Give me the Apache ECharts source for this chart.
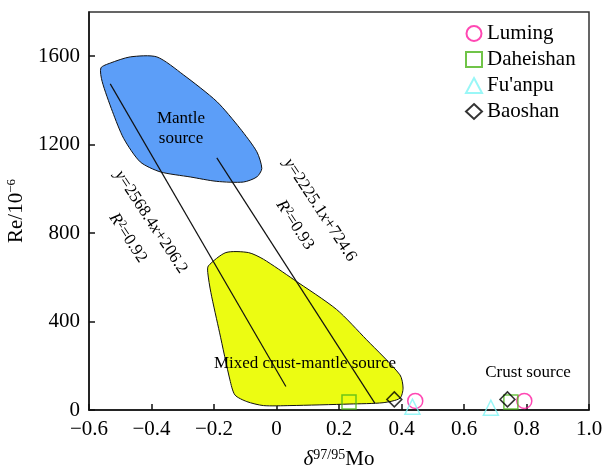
<!DOCTYPE html>
<html>
<head>
<meta charset="UTF-8">
<script src="https://cdn.jsdelivr.net/npm/echarts@6/dist/echarts.min.js"></script>
<style>html,body{margin:0;padding:0;background:#fff}</style>
</head>
<body>
<div id="main" style="width:611px;height:469px;"></div>
<script>
// field outlines [delta97/95Mo, Re]
var mantleArea = [[-0.562,1547],[-0.532,1569],[-0.468,1597],[-0.383,1597],[-0.298,1516],[-0.191,1395],
  [-0.117,1274],[-0.063,1168],[-0.047,1092],[-0.063,1054],[-0.106,1031],[-0.191,1034],[-0.276,1054],
  [-0.372,1077],[-0.436,1122],[-0.489,1228],[-0.525,1350],[-0.558,1486]];
var mixedArea = [[-0.218,652],[-0.162,712],[-0.090,712],[-0.042,682],[0.054,591],[0.192,455],[0.288,318],
  [0.395,159],[0.405,99],[0.395,53],[0.341,33],[0.235,27],[0.043,20],[-0.042,20],[-0.095,38],[-0.133,68],
  [-0.149,136],[-0.182,349],[-0.210,531],[-0.220,622]];
// regression lines
var line1 = [[-0.532,1475],[0.030,106]];
var line2 = [[-0.191,1140],[0.315,30]];
// samples
var luming = [[0.444,41],[0.793,41]];
var daheishan = [[0.232,36],[0.750,36]];
var fuanpu = [[0.435,15],[0.686,10]];
var baoshan = [[0.377,48],[0.739,48]];

var serif = 'Liberation Serif';
var chart = echarts.init(document.getElementById('main'));

function areaSeries(pts, fill) {
  return {
    type: 'custom', coordinateSystem: 'cartesian2d', silent: true, z: 1,
    data: [0],
    renderItem: function (params, api) {
      return {
        type: 'polygon',
        shape: { points: pts.map(function (p) { return api.coord(p); }), smooth: 0.25 },
        style: { fill: fill, stroke: '#111', lineWidth: 1 }
      };
    }
  };
}
function lineSeries(pts) {
  return { type: 'line', data: pts, symbol: 'none', silent: true, z: 3,
    lineStyle: { color: '#111', width: 1.2 } };
}
function scat(name, pts, symbol, color, size) {
  return { name: name, type: 'scatter', data: pts, symbol: symbol, symbolSize: size, z: 5,
    itemStyle: { color: 'rgba(0,0,0,0)', borderColor: color, borderWidth: 1.5 } };
}
function fmt(v) {
  if (Math.abs(v) < 1e-9) return '0';
  return v.toFixed(1).replace('-', '\u2212');
}

chart.setOption({
  animation: false,
  textStyle: { fontFamily: serif },
  grid: { left: 89, right: 22, top: 12, bottom: 59, show: true, borderColor: '#333', borderWidth: 1.5,
    outerBoundsMode: 'none', containLabel: false },
  legend: {
    orient: 'vertical', left: 460, top: 18, itemWidth: 16, itemHeight: 15, itemGap: 5,
    textStyle: { fontFamily: serif, fontSize: 21, color: '#000' },
    data: ['Luming', 'Daheishan', "Fu'anpu", 'Baoshan']
  },
  xAxis: {
    type: 'value', min: -0.6, max: 1.0, interval: 0.2,
    splitLine: { show: false },
    axisLine: { onZero: false, lineStyle: { color: '#111', width: 1.5 } },
    axisTick: { inside: true, length: 6, lineStyle: { color: '#111', width: 1.5 } },
    axisLabel: { color: '#000', fontSize: 21, fontFamily: serif, margin: 9, formatter: fmt },
    name: '{i|δ}{s|97/95}{a|Mo}', nameLocation: 'middle', nameGap: 38,
    nameTextStyle: {
      rich: {
        i: { fontFamily: serif, fontStyle: 'italic', fontSize: 21, color: '#000' },
        s: { fontFamily: serif, fontSize: 14, color: '#000', verticalAlign: 'top', padding: [0, 0, 8, 0] },
        a: { fontFamily: serif, fontSize: 21, color: '#000' }
      }
    }
  },
  yAxis: {
    type: 'value', min: 0, max: 1800, interval: 400,
    splitLine: { show: false },
    axisLine: { onZero: false, lineStyle: { color: '#111', width: 1.5 } },
    axisTick: { inside: true, length: 6, lineStyle: { color: '#111', width: 1.5 } },
    axisLabel: { color: '#000', fontSize: 21, fontFamily: serif, margin: 9, showMaxLabel: false,
      formatter: function (v) { return String(v); } },
    name: '{a|Re/10}{s|\u22126}', nameLocation: 'middle', nameGap: 54,
    nameTextStyle: {
      rich: {
        a: { fontFamily: serif, fontSize: 21, color: '#000' },
        s: { fontFamily: serif, fontSize: 13, color: '#000', verticalAlign: 'top', padding: [0, 0, 10, 0] }
      }
    }
  },
  graphic: [
    { type: 'text', x: 181, y: 129, z: 10, style: { text: 'Mantle\nsource', font: '17px ' + serif, fill: '#000', align: 'center', verticalAlign: 'middle', lineHeight: 20 } },
    { type: 'text', x: 305, y: 364, z: 10, style: { text: 'Mixed crust-mantle source', font: '17px ' + serif, fill: '#000', align: 'center', verticalAlign: 'middle' } },
    { type: 'text', x: 528, y: 373, z: 10, style: { text: 'Crust source', font: '17px ' + serif, fill: '#000', align: 'center', verticalAlign: 'middle' } },
    { type: 'text', x: 151, y: 222, rotation: -0.99, z: 10, style: { text: '{i|y}=2568.4{i|x}+206.2', font: '17px ' + serif, fill: '#000', align: 'center', verticalAlign: 'middle',
      rich: { i: { font: 'italic 17px ' + serif, fill: '#000' } } } },
    { type: 'text', x: 128, y: 238, rotation: -0.99, z: 10, style: { text: '{i|R}{s|2}=0.92', font: '17px ' + serif, fill: '#000', align: 'center', verticalAlign: 'middle',
      rich: { i: { font: 'italic 17px ' + serif, fill: '#000' }, s: { font: '11px ' + serif, fill: '#000', verticalAlign: 'top', padding: [0, 0, 6, 0] } } } },
    { type: 'text', x: 320, y: 210, rotation: -0.99, z: 10, style: { text: '{i|y}=2225.1{i|x}+724.6', font: '17px ' + serif, fill: '#000', align: 'center', verticalAlign: 'middle',
      rich: { i: { font: 'italic 17px ' + serif, fill: '#000' } } } },
    { type: 'text', x: 295, y: 225, rotation: -0.99, z: 10, style: { text: '{i|R}{s|2}=0.93', font: '17px ' + serif, fill: '#000', align: 'center', verticalAlign: 'middle',
      rich: { i: { font: 'italic 17px ' + serif, fill: '#000' }, s: { font: '11px ' + serif, fill: '#000', verticalAlign: 'top', padding: [0, 0, 6, 0] } } } }
  ],
  series: [
    areaSeries(mantleArea, '#5c9ef8'),
    areaSeries(mixedArea, '#ecfc12'),
    lineSeries(line1),
    lineSeries(line2),
    scat('Luming', luming, 'circle', '#ff1aa0', 15),
    scat('Daheishan', daheishan, 'rect', '#4cb51a', 14),
    scat("Fu'anpu", fuanpu, 'triangle', '#7ff5f5', 15),
    scat('Baoshan', baoshan, 'diamond', '#000', 15)
  ]
});
</script>
</body>
</html>
